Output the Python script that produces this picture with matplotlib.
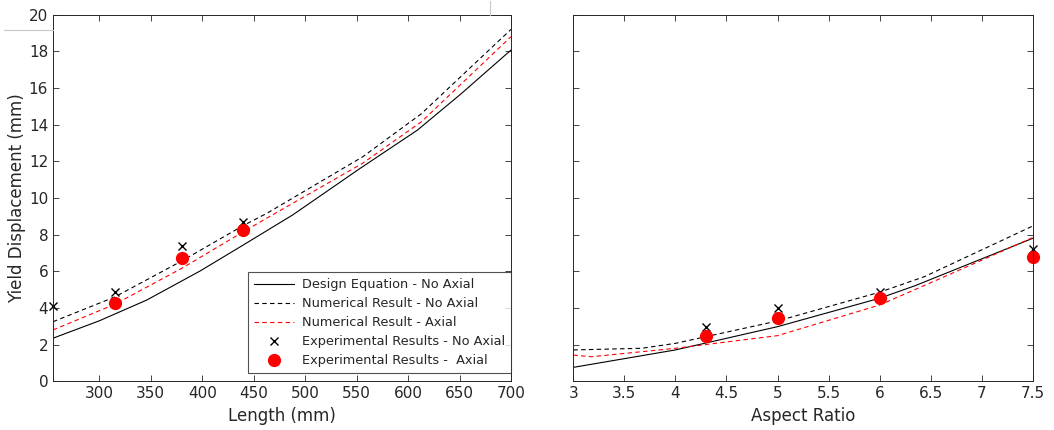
import matplotlib
matplotlib.use("Agg")
from matplotlib import pyplot as plt
from matplotlib.lines import Line2D

# left panel: yield displacement vs length
len_design_x = [255, 300, 346, 398, 440, 488, 553, 609, 651, 700]
len_design_y = [2.35, 3.3, 4.43, 6.02, 7.44, 9.08, 11.6, 13.7, 15.66, 18.07]
len_num_x = [255, 315, 379, 440, 463, 556, 613, 700]
len_num_y = [3.25, 4.6, 6.53, 8.5, 9.17, 12.25, 14.6, 19.2]
len_num_ax_x = [255, 315, 380, 440, 468, 556, 613, 700]
len_num_ax_y = [2.8, 4.2, 6.16, 8.16, 9.07, 11.9, 14.16, 18.8]
len_exp_x = [255, 315, 380, 440]
len_exp_y = [4.12, 4.86, 7.4, 8.71]
len_exp_ax_x = [315, 380, 440]
len_exp_ax_y = [4.29, 6.74, 8.25]

# right panel: yield displacement vs aspect ratio
ar_design_x = [3.0, 4.0, 5.0, 6.0, 6.35, 7.5]
ar_design_y = [0.76, 1.71, 2.98, 4.53, 5.22, 7.8]
ar_num_x = [3.0, 3.67, 4.0, 5.0, 6.0, 6.44, 7.5]
ar_num_y = [1.71, 1.8, 2.07, 3.29, 4.86, 5.71, 8.47]
ar_num_ax_x = [3.0, 3.18, 4.0, 5.0, 6.0, 6.6, 7.5]
ar_num_ax_y = [1.43, 1.34, 1.8, 2.49, 4.16, 5.62, 7.84]
ar_exp_x = [4.3, 5.0, 6.0, 7.5]
ar_exp_y = [2.94, 3.98, 4.85, 7.2]
ar_exp_ax_x = [4.3, 5.0, 6.0, 7.5]
ar_exp_ax_y = [2.47, 3.44, 4.53, 6.8]

labels = [
    "Design Equation - No Axial",
    "Numerical Result - No Axial",
    "Numerical Result - Axial",
    "Experimental Results - No Axial",
    "Experimental Results -  Axial",
]

plt.rcParams["font.family"] = ["DejaVu Sans"]
axis_color = "#262626"

fig = plt.figure(figsize=(10.54, 4.30), dpi=100)
ax1 = fig.add_axes([0.0503, 0.1133, 0.4345, 0.8525])
ax2 = fig.add_axes([0.544, 0.1133, 0.4358, 0.8525])


def draw(ax, dx, dy, nx_, ny, ax_x, ax_y, ex, ey, eax, eay):
    ax.plot(dx, dy, color="black", lw=0.8, label=labels[0])
    ax.plot(nx_, ny, color="black", lw=0.8, ls=(0, (4, 3)), label=labels[1])
    ax.plot(ax_x, ax_y, color="red", lw=0.8, ls=(0, (4, 3)), label=labels[2])
    ax.plot(ex, ey, ls="none", marker="x", color="black", ms=6, mew=1.0,
            label=labels[3], clip_on=False)
    ax.plot(eax, eay, ls="none", marker="o", color="red", ms=8.5,
            label=labels[4], clip_on=False)
    ax.set_ylim(0, 20)
    ax.set_yticks(range(0, 21, 2))
    ax.tick_params(direction="in", top=True, right=True, colors=axis_color,
                   labelsize=11, length=4, width=0.6)
    for s in ax.spines.values():
        s.set_color(axis_color)
        s.set_linewidth(0.7)


draw(ax1, len_design_x, len_design_y, len_num_x, len_num_y, len_num_ax_x,
     len_num_ax_y, len_exp_x, len_exp_y, len_exp_ax_x, len_exp_ax_y)
ax1.set_xlim(255, 700)
ax1.set_xticks(range(300, 701, 50))
ax1.set_xlabel("Length (mm)", fontsize=12, color=axis_color)
ax1.set_ylabel("Yield Displacement (mm)", fontsize=12, color=axis_color,
               labelpad=2)

draw(ax2, ar_design_x, ar_design_y, ar_num_x, ar_num_y, ar_num_ax_x,
     ar_num_ax_y, ar_exp_x, ar_exp_y, ar_exp_ax_x, ar_exp_ax_y)
ax2.set_xlim(3, 7.5)
ax2.set_xticks([3, 3.5, 4, 4.5, 5, 5.5, 6, 6.5, 7, 7.5])
ax2.set_xticklabels(["3", "3.5", "4", "4.5", "5", "5.5", "6", "6.5", "7", "7.5"])
ax2.set_yticklabels([])
ax2.set_xlabel("Aspect Ratio", fontsize=12, color=axis_color)

leg = ax1.legend(loc="lower right", bbox_to_anchor=(1.0, 0.022),
                 fontsize=9.3, frameon=True, fancybox=False,
                 handlelength=3.1, borderaxespad=0.0, labelspacing=0.47,
                 borderpad=0.45, handletextpad=0.6)
leg.get_frame().set_edgecolor(axis_color)
leg.get_frame().set_linewidth(0.8)
for t in leg.get_texts():
    t.set_color(axis_color)

# stray screenshot guide lines
fig.add_artist(Line2D([0.004, 0.05], [0.93, 0.93], color="#c8c8c8", lw=0.8))
fig.add_artist(Line2D([0.4645, 0.4645], [0.965, 0.998], color="#c8c8c8", lw=0.8))

fig.savefig("out.png", dpi=100, facecolor="white")
